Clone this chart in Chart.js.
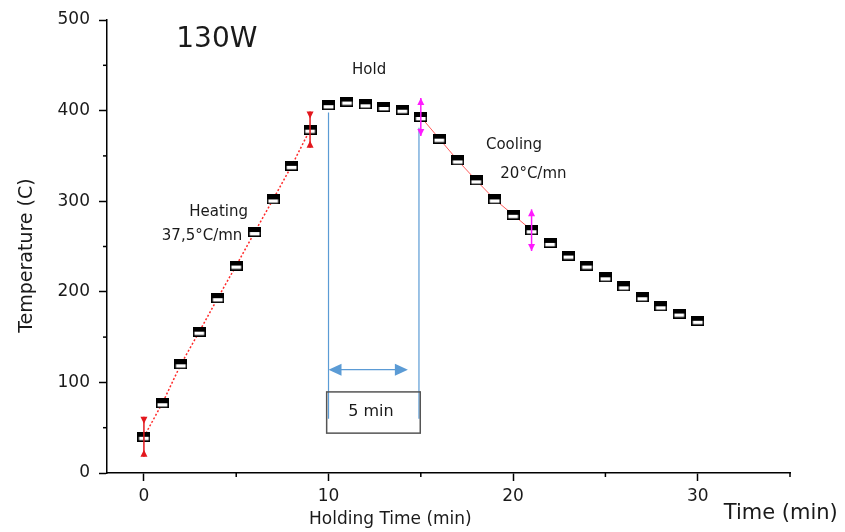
<!DOCTYPE html>
<html>
<head>
<meta charset="utf-8">
<script src="https://cdn.jsdelivr.net/npm/chart.js@4.4.1/dist/chart.umd.min.js"></script>
<style>
  html, body { margin: 0; padding: 0; background: #fff; }
  #wrap { width: 845px; height: 532px; }
</style>
</head>
<body>
<div id="wrap"><canvas id="chart" width="845" height="532"></canvas></div>
<script>
// data
const times = [0, 1, 2, 3, 4, 5, 6, 7, 8, 9, 10, 11, 12, 13, 14, 15, 16, 17, 18, 19, 20, 21, 22, 23, 24, 25, 26, 27, 28, 29, 30];
const temps = [40, 77, 120, 156, 193, 229, 266, 302, 339, 379, 406, 410, 407, 404, 401, 393, 369, 345, 323, 302, 285, 268, 254, 240, 229, 216, 206, 194, 184, 176, 168];
const heatingRange = [0, 9];   // indexes joined by the dotted red line
const coolingRange = [15, 21]; // indexes joined by the thin red line

const errIndex = [0, 9, 15, 21];
const errSize = [22, 20, 21, 23];
const errKind = ["in", "in", "out", "out"];
const errColor = ["#e3171d", "#e3171d", "#ff1aff", "#ff1aff"];

const xTicks = [0, 5, 10, 15, 20, 25, 30, 35];
const xLabels = [0, 10, 20, 30];
const yTicks = [0, 50, 100, 150, 200, 250, 300, 350, 400, 450, 500];
const yLabels = [0, 100, 200, 300, 400, 500];

// hold annotation (data units)
const holdLines = [[10, 398], [14.9, 381]];
const holdLineBottom = 60;
const holdArrow = [10, 14.3, 114];
const holdBox = [9.9, 14.97, 44, 89.5];

const notes = [
  { text: "130W", x: 3.95, y: 478, size: 28 },
  { text: "Hold", x: 12.2, y: 445, size: 15 },
  { text: "Cooling", x: 20.05, y: 362, size: 15 },
  { text: "20°C/mn", x: 21.1, y: 330, size: 15 },
  { text: "Heating", x: 4.05, y: 288, size: 15 },
  { text: "37,5°C/mn", x: 3.15, y: 261, size: 15 },
  { text: "5 min", x: 12.3, y: 67, size: 16 },
];

const FONT = "'DejaVu Sans', sans-serif";
const TXT = "#1a1a1a";

function pts(range) {
  const out = [];
  for (let i = range[0]; i <= range[1]; i++) out.push({ x: times[i], y: temps[i] });
  return out;
}

function makeMarker() {
  const c = document.createElement("canvas");
  c.width = 13;
  c.height = 10;
  const g = c.getContext("2d");
  g.fillStyle = "#fff";
  g.fillRect(0, 0, 13, 10);
  g.fillStyle = "#000";
  g.fillRect(0, 0, 13, 5);
  g.strokeStyle = "#000";
  g.lineWidth = 1.6;
  g.strokeRect(0.8, 0.8, 11.4, 8.4);
  return c;
}

function tri(ctx, x, tipY, baseY, half) {
  ctx.beginPath();
  ctx.moveTo(x, tipY);
  ctx.lineTo(x - half, baseY);
  ctx.lineTo(x + half, baseY);
  ctx.closePath();
  ctx.fill();
}

const extras = {
  id: "extras",
  afterDraw(chart) {
    const ctx = chart.ctx;
    const xs = chart.scales.x;
    const ys = chart.scales.y;
    const area = chart.chartArea;
    ctx.save();

    // minor ticks
    ctx.strokeStyle = "#000";
    ctx.lineWidth = 1.5;
    yTicks.forEach((v) => {
      if (v % 100 === 0) return;
      const py = ys.getPixelForValue(v);
      ctx.beginPath();
      ctx.moveTo(area.left - 4, py);
      ctx.lineTo(area.left, py);
      ctx.stroke();
    });
    xTicks.forEach((v) => {
      if (v % 10 === 0) return;
      const px = xs.getPixelForValue(v);
      ctx.beginPath();
      ctx.moveTo(px, area.bottom);
      ctx.lineTo(px, area.bottom + 4);
      ctx.stroke();
    });

    // hold lines, arrow and box
    ctx.strokeStyle = "#5b9bd5";
    ctx.fillStyle = "#5b9bd5";
    ctx.lineWidth = 1.2;
    holdLines.forEach(([t, top]) => {
      const px = xs.getPixelForValue(t);
      ctx.beginPath();
      ctx.moveTo(px, ys.getPixelForValue(top));
      ctx.lineTo(px, ys.getPixelForValue(holdLineBottom));
      ctx.stroke();
    });
    const ax1 = xs.getPixelForValue(holdArrow[0]);
    const ax2 = xs.getPixelForValue(holdArrow[1]);
    const ay = ys.getPixelForValue(holdArrow[2]);
    ctx.beginPath();
    ctx.moveTo(ax1 + 10, ay);
    ctx.lineTo(ax2 - 10, ay);
    ctx.stroke();
    ctx.beginPath();
    ctx.moveTo(ax1, ay);
    ctx.lineTo(ax1 + 13, ay - 6);
    ctx.lineTo(ax1 + 13, ay + 6);
    ctx.closePath();
    ctx.fill();
    ctx.beginPath();
    ctx.moveTo(ax2, ay);
    ctx.lineTo(ax2 - 13, ay - 6);
    ctx.lineTo(ax2 - 13, ay + 6);
    ctx.closePath();
    ctx.fill();

    ctx.strokeStyle = "#555";
    ctx.lineWidth = 1.5;
    const bx1 = xs.getPixelForValue(holdBox[0]);
    const bx2 = xs.getPixelForValue(holdBox[1]);
    const by1 = ys.getPixelForValue(holdBox[3]);
    const by2 = ys.getPixelForValue(holdBox[2]);
    ctx.strokeRect(bx1, by1, bx2 - bx1, by2 - by1);

    // error bars
    errIndex.forEach((idx, k) => {
      const px = xs.getPixelForValue(times[idx]);
      const top = ys.getPixelForValue(temps[idx] + errSize[k]);
      const bot = ys.getPixelForValue(temps[idx] - errSize[k]);
      ctx.strokeStyle = errColor[k];
      ctx.fillStyle = errColor[k];
      ctx.lineWidth = 1.5;
      ctx.beginPath();
      ctx.moveTo(px, top);
      ctx.lineTo(px, bot);
      ctx.stroke();
      if (errKind[k] === "in") {
        tri(ctx, px, top + 7, top, 3.5);
        tri(ctx, px, bot - 7, bot, 3.5);
      } else {
        tri(ctx, px, top, top + 7, 3.5);
        tri(ctx, px, bot, bot - 7, 3.5);
      }
    });

    // text notes
    ctx.fillStyle = TXT;
    ctx.textAlign = "center";
    ctx.textBaseline = "middle";
    notes.forEach((n) => {
      ctx.font = n.size + "px " + FONT;
      ctx.fillText(n.text, xs.getPixelForValue(n.x), ys.getPixelForValue(n.y));
    });

    // axis titles
    ctx.font = "17px " + FONT;
    ctx.fillText("Holding Time (min)", xs.getPixelForValue(13.35), area.bottom + 47);
    ctx.font = "21px " + FONT;
    ctx.fillText("Time (min)", xs.getPixelForValue(34.5), area.bottom + 41);
    ctx.translate(area.left - 80, ys.getPixelForValue(240));
    ctx.rotate(-Math.PI / 2);
    ctx.font = "19px " + FONT;
    ctx.fillText("Temperature (C)", 0, 0);
    ctx.restore();
  },
};

const marker = makeMarker();

new Chart(document.getElementById("chart"), {
  type: "scatter",
  data: {
    datasets: [
      {
        data: times.map((t, i) => ({ x: t, y: temps[i] })),
        pointStyle: marker,
        pointRadius: 6,
        order: 0,
      },
      {
        data: pts(heatingRange),
        showLine: true,
        borderColor: "#ff2a2a",
        borderWidth: 1.5,
        borderDash: [2, 2],
        pointRadius: 0,
        order: 1,
      },
      {
        data: pts(coolingRange),
        showLine: true,
        borderColor: "#ff5a5a",
        borderWidth: 1,
        pointRadius: 0,
        order: 1,
      },
    ],
  },
  options: {
    responsive: false,
    animation: false,
    events: [],
    layout: { padding: { top: 20, right: 55, left: 0, bottom: 0 } },
    plugins: { legend: { display: false }, tooltip: { enabled: false } },
    scales: {
      x: {
        type: "linear",
        min: -2,
        max: 35,
        afterBuildTicks: (s) => { s.ticks = xTicks.map((v) => ({ value: v })); },
        afterFit: (s) => { s.height = 59; },
        grid: {
          drawOnChartArea: false,
          tickLength: 8,
          tickWidth: 1.5,
          tickColor: (c) => (xLabels.includes(c.tick.value) ? "#000" : "transparent"),
        },
        border: { color: "#000", width: 1.5 },
        ticks: {
          padding: 5,
          color: TXT,
          font: { family: FONT, size: 17 },
          maxRotation: 0,
          autoSkip: false,
          callback: (v) => (xLabels.includes(v) ? String(v) : ""),
        },
      },
      y: {
        min: 0,
        max: 500,
        afterBuildTicks: (s) => { s.ticks = yTicks.map((v) => ({ value: v })); },
        afterFit: (s) => { s.width = 107; },
        grid: {
          drawOnChartArea: false,
          tickLength: 8,
          tickWidth: 1.5,
          tickColor: (c) => (yLabels.includes(c.tick.value) ? "#000" : "transparent"),
        },
        border: { color: "#000", width: 1.5 },
        ticks: {
          padding: 9,
          color: TXT,
          font: { family: FONT, size: 17 },
          autoSkip: false,
          callback: (v) => (yLabels.includes(v) ? String(v) : ""),
        },
      },
    },
  },
  plugins: [extras],
});
</script>
</body>
</html>
